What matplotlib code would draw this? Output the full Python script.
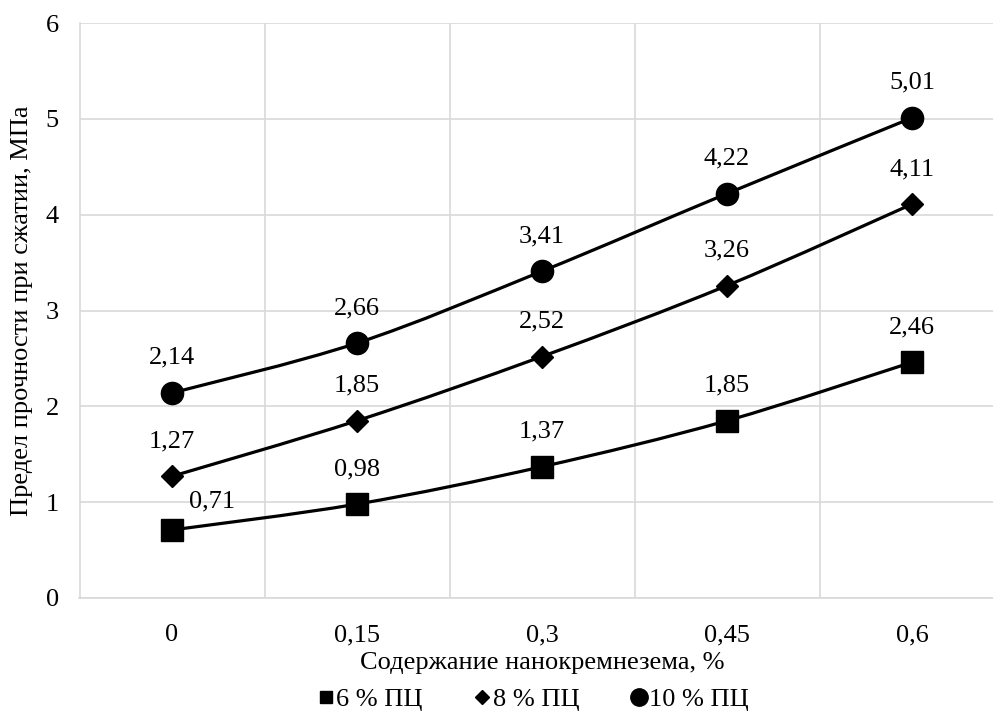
import matplotlib
matplotlib.use('Agg')
import matplotlib.pyplot as plt
from matplotlib.path import Path
from matplotlib.patches import PathPatch
from matplotlib.lines import Line2D
import numpy as np

plt.rcParams['font.family'] = ['Liberation Serif', 'DejaVu Serif']

# данные
categories = ['0', '0,15', '0,3', '0,45', '0,6']
pc6 = [0.71, 0.98, 1.37, 1.85, 2.46]
pc8 = [1.27, 1.85, 2.52, 3.26, 4.11]
pc10 = [2.14, 2.66, 3.41, 4.22, 5.01]
series_names = ['6 % ПЦ', '8 % ПЦ', '10 % ПЦ']
y_ticks = [0, 1, 2, 3, 4, 5, 6]

FS = 19


def smooth_path(xs, ys):
    # сглаживание как в Excel (Catmull-Rom -> Безье)
    pts = np.column_stack([xs, ys]).astype(float)
    n = len(pts)
    verts = [pts[0]]
    codes = [Path.MOVETO]
    for i in range(n - 1):
        p0 = pts[i - 1] if i > 0 else pts[i]
        p1 = pts[i]
        p2 = pts[i + 1]
        p3 = pts[i + 2] if i + 2 < n else pts[i + 1]
        c1 = p1 + (p2 - p0) / 6.0
        c2 = p2 - (p3 - p1) / 6.0
        verts += [c1, c2, p2]
        codes += [Path.CURVE4] * 3
    return Path(verts, codes)


fig = plt.figure(figsize=(9.93, 7.2), dpi=100)
ax = fig.add_axes([79.5 / 993, 1 - 598 / 720, 925 / 993, 575 / 720])
cx = (79.5 + 1004.5) / 2 / 993  # центр области построения

x = np.arange(len(categories))
grid_c = '#d9d9d9'

series = [pc6, pc8, pc10]
markers = ['s', 'D', 'o']
msizes = [16, 11.2, 16]
for vals, m, ms in zip(series, markers, msizes):
    ax.add_patch(PathPatch(smooth_path(x, vals), fill=False, edgecolor='black',
                           lw=2.3, zorder=3, capstyle='round'))
    ax.plot(x, vals, linestyle='none', marker=m, ms=ms, color='black', zorder=4)

# подписи значений
for vals in series:
    for i, v in enumerate(vals):
        dx, dy = 0, 35
        if vals is pc6 and i == 0:
            dx, dy = 40, 29
        ax.annotate(f'{v:.2f}'.replace('.', ','), (x[i], v), xytext=(dx, dy),
                    textcoords='offset pixels', ha='center', va='center',
                    fontsize=FS, zorder=5)

ax.set_xlim(-0.5, len(categories) - 0.5)
ax.set_ylim(0, 6)
ax.set_xticks(x)
ax.set_xticklabels(categories)
ax.set_xticks(np.arange(0.5, len(categories) - 0.5, 1), minor=True)
ax.set_yticks(y_ticks)
ax.tick_params(axis='both', which='both', length=0, labelsize=FS)
ax.tick_params(axis='x', pad=19)
ax.tick_params(axis='y', pad=15)
ax.grid(axis='y', which='major', color=grid_c, lw=1.2)
ax.grid(axis='x', which='minor', color=grid_c, lw=1.2)
ax.grid(axis='x', which='major', visible=False)
for s in ['top', 'right']:
    ax.spines[s].set_visible(False)
for s in ['left', 'bottom']:
    ax.spines[s].set_color(grid_c)
    ax.spines[s].set_linewidth(1.2)
ax.set_axisbelow(True)

fig.text(22 / 993, 1 - 310.5 / 720, 'Предел прочности при сжатии, МПа',
         rotation=90, ha='center', va='center', fontsize=FS)
fig.text(cx, 1 - 663 / 720, 'Содержание нанокремнезема, %',
         ha='center', va='center', fontsize=FS)

handles = [Line2D([], [], linestyle='none', marker=m, color='black', ms=s)
           for m, s in zip(markers, [9, 7.2, 12.5])]
fig.legend(handles, series_names, loc='center', bbox_to_anchor=(534 / 993, 1 - 699 / 720),
           ncol=3, frameon=False, fontsize=FS, handlelength=0.5, handletextpad=0.15,
           columnspacing=2.0, borderpad=0)

fig.savefig('out.png', dpi=100)
